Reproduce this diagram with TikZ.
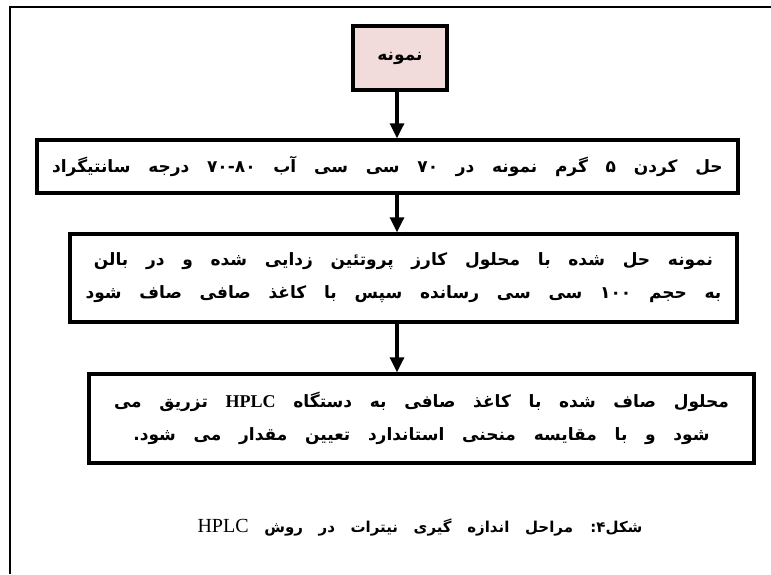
\documentclass[tikz,border=0pt]{standalone}
\usepackage{fontspec}
\TeXXeTstate=1
\newfontfamily\fa[Script=Arabic,WordSpace=3.0]{DejaVu Sans}
\newfontfamily\lat{Liberation Serif}
\usetikzlibrary{arrows.meta}
\definecolor{pinkfill}{HTML}{F2DCDB}
\begin{document}
\begin{tikzpicture}[x=1pt,y=-1pt,
  box/.style={draw=black,line width=3.4pt,fill=white,inner sep=0pt},
  arr/.style={line width=3.2pt,-{Triangle[length=15pt,width=14pt]}},
  txt/.style={font=\fa\bfseries\fontsize{17}{33}\selectfont,align=center},
  captxt/.style={font=\fa\bfseries\fontsize{15}{20}\selectfont}]
\useasboundingbox (0,0) rectangle (771,574);
\draw[line width=2pt] (771,7) -- (10,7) -- (10,574);
\node[box,txt,fill=pinkfill,minimum width=94pt,minimum height=64pt] (b0) at (400,58)
  {\beginR نمونه\endR};
\node[box,txt,minimum width=701pt,minimum height=53pt] (b1) at (387.5,166.5)
  {\beginR حل کردن ۵ گرم نمونه در \beginL۷۰\endL{} سی سی آب \beginL۷۰-۸۰\endL{} درجه سانتیگراد\endR};
\node[box,txt,minimum width=667pt,minimum height=88pt] (b2) at (403.5,278)
  {\beginR نمونه حل شده با محلول کارز پروتئین زدایی شده و در بالن\endR\\
   \beginR به حجم \beginL۱۰۰\endL{} سی سی رسانده سپس با کاغذ صافی صاف شود\endR};
\node[box,txt,minimum width=665pt,minimum height=89pt] (b3) at (421.5,418.5)
  {\beginR محلول صاف شده با کاغذ صافی به دستگاه {\lat\bfseries\fontsize{18}{33}\selectfont HPLC} تزریق می\endR\\
   \beginR شود و با مقایسه منحنی استاندارد تعیین مقدار می شود.\endR};
\node[captxt] (c) at (420,527)
  {\beginR شکل۴: مراحل اندازه گیری نیترات در روش {\lat\mdseries\fontsize{20}{20}\selectfont HPLC}\endR};
\coordinate (ax) at (397,0);
\draw[arr] (b0.south -| ax) -- (b1.north -| ax);
\draw[arr] (b1.south -| ax) -- (b2.north -| ax);
\draw[arr] (b2.south -| ax) -- (b3.north -| ax);
\end{tikzpicture}
\end{document}
